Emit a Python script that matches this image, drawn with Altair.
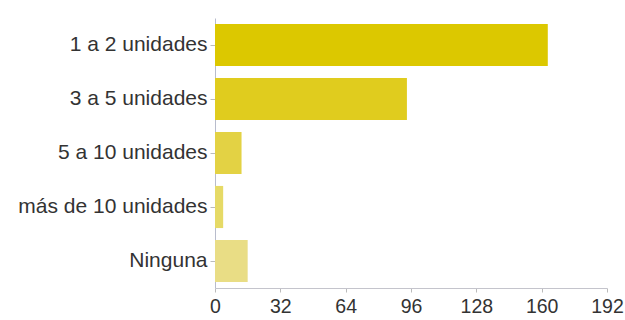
import altair as alt
import pandas as pd

categories = ["1 a 2 unidades", "3 a 5 unidades", "5 a 10 unidades", "más de 10 unidades", "Ninguna"]
values = [163, 94, 13, 4, 16]
bar_colors = ["#DCC800", "#E0CC1E", "#E3D244", "#E6DA66", "#E9DD85"]
x_ticks = [0, 32, 64, 96, 128, 160, 192]

df = pd.DataFrame({"cat": categories, "value": values})

chart = alt.Chart(df).mark_bar().encode(
    y=alt.Y("cat:N", sort=categories, title=None,
            scale=alt.Scale(paddingInner=0.22, paddingOuter=0.11),
            axis=alt.Axis(labelFontSize=21, labelColor="#333333", labelFont="Liberation Sans",
                          tickSize=5, tickColor="#bbbbbb", domainColor="#b8bccc",
                          labelPadding=3, labelLimit=300)),
    x=alt.X("value:Q", title=None,
            scale=alt.Scale(domain=[0, 192], nice=False),
            axis=alt.Axis(values=x_ticks, grid=False, labelFontSize=19.5, labelColor="#333333",
                          labelFont="Liberation Sans", tickSize=4, tickColor="#bbbbbb",
                          domainColor="#c4c4cc", labelPadding=5, labelFlush=False,
                          labelOverlap=False)),
    color=alt.Color("cat:N", scale=alt.Scale(domain=categories, range=bar_colors), legend=None),
).properties(
    width=392, height=270,
    background="white",
    autosize=alt.AutoSizeParams(type="none"),
    padding={"left": 215, "top": 18, "right": 18, "bottom": 32},
).configure_view(strokeWidth=0, stroke="transparent")

chart.save("out.html", embed_options={"renderer": "svg", "actions": False})
